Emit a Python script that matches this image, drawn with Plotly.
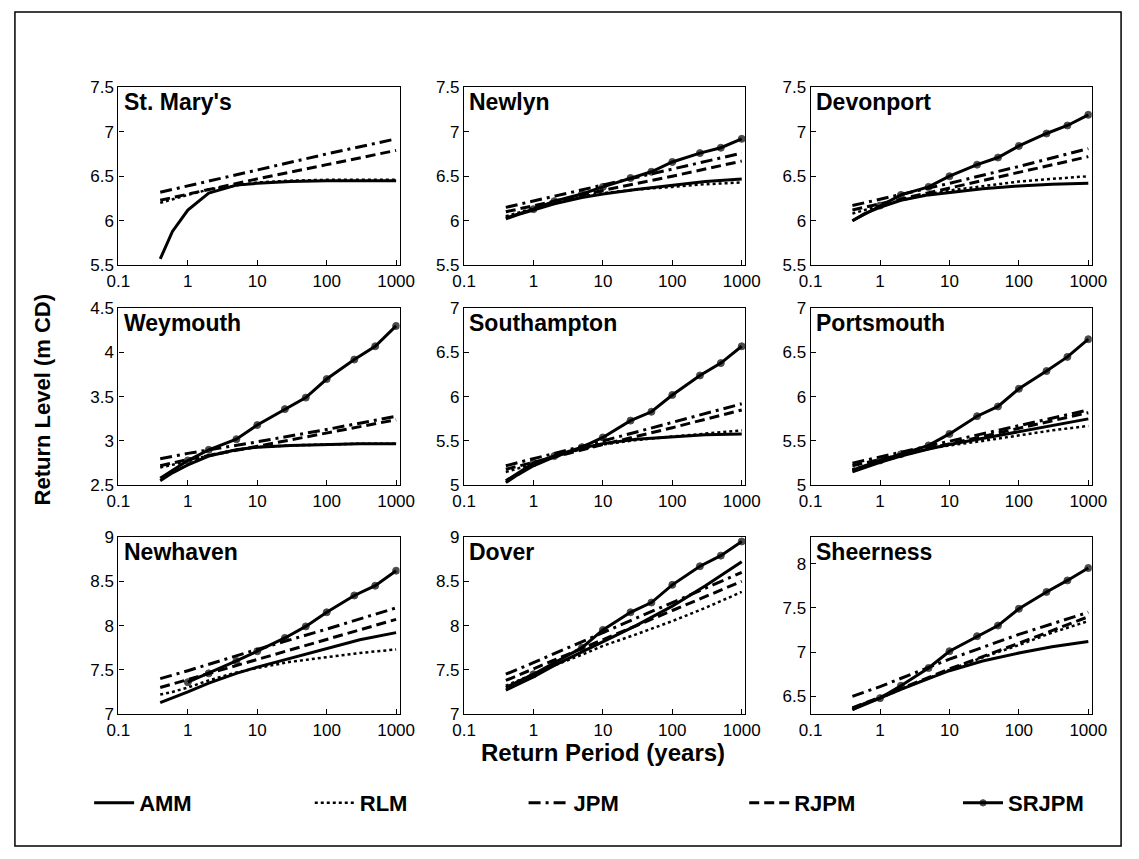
import plotly.graph_objects as go

# ---------------- data ----------------
STATIONS = ["St. Mary's", "Newlyn", "Devonport", "Weymouth", "Southampton",
            "Portsmouth", "Newhaven", "Dover", "Sheerness"]
METHODS = ["AMM", "RLM", "JPM", "RJPM", "SRJPM"]

X_CURVE = [0.4, 0.6, 1, 2, 5, 10, 30, 100, 300, 1000]      # AMM, RLM
X_LINE = [0.4, 1, 10, 100, 1000]                            # JPM, RJPM
X_SR = [0.4, 1, 2, 5, 10, 25, 50, 100, 250, 500, 1000]      # SRJPM

AMM = [
    [5.57, 5.88, 6.12, 6.31, 6.40, 6.42, 6.44, 6.45, 6.45, 6.45],
    [6.02, 6.07, 6.12, 6.19, 6.26, 6.30, 6.35, 6.40, 6.44, 6.47],
    [6.00, 6.08, 6.15, 6.23, 6.29, 6.32, 6.36, 6.39, 6.41, 6.42],
    [2.55, 2.64, 2.73, 2.83, 2.90, 2.93, 2.95, 2.96, 2.97, 2.97],
    [5.03, 5.12, 5.22, 5.32, 5.42, 5.47, 5.52, 5.55, 5.57, 5.58],
    [5.15, 5.20, 5.26, 5.33, 5.41, 5.46, 5.53, 5.61, 5.68, 5.75],
    [7.13, 7.18, 7.25, 7.35, 7.46, 7.53, 7.63, 7.74, 7.84, 7.92],
    [7.27, 7.34, 7.42, 7.55, 7.70, 7.82, 8.00, 8.22, 8.45, 8.72],
    [6.35, 6.42, 6.48, 6.58, 6.70, 6.79, 6.90, 6.99, 7.06, 7.12],
]
RLM = [
    [6.20, 6.24, 6.29, 6.35, 6.40, 6.43, 6.45, 6.46, 6.46, 6.46],
    [6.05, 6.09, 6.14, 6.20, 6.27, 6.31, 6.35, 6.38, 6.41, 6.43],
    [6.08, 6.12, 6.17, 6.23, 6.30, 6.34, 6.39, 6.44, 6.47, 6.50],
    [2.70, 2.73, 2.77, 2.84, 2.90, 2.93, 2.95, 2.96, 2.97, 2.97],
    [5.15, 5.19, 5.24, 5.32, 5.41, 5.46, 5.51, 5.55, 5.58, 5.62],
    [5.18, 5.22, 5.27, 5.33, 5.41, 5.45, 5.50, 5.56, 5.62, 5.67],
    [7.22, 7.25, 7.30, 7.38, 7.47, 7.52, 7.59, 7.64, 7.69, 7.73],
    [7.32, 7.38, 7.45, 7.55, 7.67, 7.77, 7.90, 8.05, 8.20, 8.38],
    [6.37, 6.42, 6.48, 6.58, 6.71, 6.80, 6.94, 7.08, 7.22, 7.35],
]
JPM = [
    [6.32, 6.39, 6.57, 6.75, 6.92],
    [6.15, 6.22, 6.40, 6.58, 6.76],
    [6.17, 6.24, 6.42, 6.61, 6.81],
    [2.80, 2.86, 2.99, 3.13, 3.28],
    [5.22, 5.30, 5.50, 5.71, 5.92],
    [5.25, 5.32, 5.50, 5.68, 5.85],
    [7.40, 7.49, 7.73, 7.96, 8.20],
    [7.45, 7.58, 7.92, 8.26, 8.60],
    [6.50, 6.61, 6.92, 7.20, 7.45],
]
RJPM = [
    [6.23, 6.30, 6.47, 6.63, 6.79],
    [6.10, 6.17, 6.34, 6.50, 6.67],
    [6.12, 6.19, 6.37, 6.54, 6.72],
    [2.72, 2.79, 2.94, 3.09, 3.24],
    [5.18, 5.26, 5.46, 5.65, 5.85],
    [5.22, 5.29, 5.47, 5.65, 5.82],
    [7.30, 7.39, 7.61, 7.84, 8.07],
    [7.38, 7.51, 7.84, 8.17, 8.50],
    [6.37, 6.49, 6.81, 7.10, 7.40],
]
SRJPM = [
    None,
    [6.03, 6.13, 6.22, 6.30, 6.38, 6.48, 6.55, 6.66, 6.76, 6.82, 6.92],
    [6.00, 6.17, 6.29, 6.38, 6.50, 6.63, 6.71, 6.84, 6.98, 7.07, 7.19],
    [2.58, 2.78, 2.90, 3.02, 3.18, 3.36, 3.49, 3.70, 3.92, 4.07, 4.30],
    [5.05, 5.25, 5.33, 5.43, 5.54, 5.73, 5.83, 6.02, 6.24, 6.38, 6.57],
    [5.17, 5.28, 5.35, 5.45, 5.58, 5.78, 5.89, 6.09, 6.29, 6.45, 6.65],
    [None, 7.36, 7.46, 7.60, 7.71, 7.86, 7.99, 8.15, 8.34, 8.45, 8.62],
    [7.30, 7.45, 7.58, 7.75, 7.95, 8.15, 8.26, 8.46, 8.67, 8.79, 8.95],
    [6.35, 6.48, 6.62, 6.82, 7.01, 7.18, 7.30, 7.49, 7.68, 7.81, 7.95],
]
Y_RANGES = [[5.5, 7.5], [5.5, 7.5], [5.5, 7.5], [2.5, 4.5], [5, 7], [5, 7],
            [7, 9], [7, 9], [6.3, 8.3]]
Y_TICKS = [[5.5, 6, 6.5, 7, 7.5], [5.5, 6, 6.5, 7, 7.5], [5.5, 6, 6.5, 7, 7.5],
           [2.5, 3, 3.5, 4, 4.5], [5, 5.5, 6, 6.5, 7], [5, 5.5, 6, 6.5, 7],
           [7, 7.5, 8, 8.5, 9], [7, 7.5, 8, 8.5, 9], [6.5, 7, 7.5, 8]]
X_TICKS = [0.1, 1, 10, 100, 1000]
X_TICK_TEXT = ["0.1", "1", "10", "100", "1000"]

# ---------------- layout / style ----------------
W, H = 1139, 859
COLS_PX = [(109, 397), (463, 751), (818, 1106)]
ROWS_PX = [(80, 262), (306, 487), (540, 721)]
LEGEND_TEXT_X = [129, 355, 574, 800, 1019]
FONT = "Liberation Sans, Arial, sans-serif"

STYLE = {
    "AMM": dict(mode="lines", line=dict(color="black", width=3, dash="solid")),
    "RLM": dict(mode="lines", line=dict(color="black", width=2.5, dash="dot")),
    "JPM": dict(mode="lines", line=dict(color="black", width=3, dash="12px,5px,3px,5px")),
    "RJPM": dict(mode="lines", line=dict(color="black", width=3, dash="10px,5px")),
    "SRJPM": dict(mode="lines+markers", line=dict(color="black", width=3)),
}
SERIES = {"AMM": (X_CURVE, AMM), "RLM": (X_CURVE, RLM), "JPM": (X_LINE, JPM),
          "RJPM": (X_LINE, RJPM), "SRJPM": (X_SR, SRJPM)}

fig = go.Figure()
legend_layout = {}
for j, m in enumerate(METHODS):
    lk = "legend" if j == 0 else "legend%d" % (j + 1)
    legend_layout[lk] = dict(orientation="h", x=(LEGEND_TEXT_X[j] - 50) / W, y=1 - 812 / H,
                             xanchor="left", yanchor="middle", itemwidth=40,
                             bgcolor="rgba(0,0,0,0)", borderwidth=0,
                             font=dict(family=FONT, size=22, color="black", weight="bold"))

for i, name in enumerate(STATIONS):
    r, c = divmod(i, 3)
    k = "" if i == 0 else str(i + 1)
    for j, m in enumerate(METHODS):
        xs, ys = SERIES[m]
        yv = ys[i]
        if yv is None:
            continue
        tr = dict(STYLE[m])
        if m == "SRJPM":
            tr["marker"] = dict(symbol="circle", color="black",
                                line=dict(width=1, color="black"),
                                size=[0 if q == 0 else 7 for q in range(len(xs))])
        fig.add_trace(go.Scatter(x=xs, y=yv, name=m, xaxis="x" + k, yaxis="y" + k,
                                 showlegend=(i == 1),
                                 legend=("legend" if j == 0 else "legend%d" % (j + 1)),
                                 **tr))
    x0, x1 = COLS_PX[c]
    y0, y1 = ROWS_PX[r]
    ticks = Y_TICKS[i]
    axis_common = dict(showline=True, mirror=True, linecolor="black", linewidth=1.2,
                       ticks="inside", ticklen=5, tickcolor="black", showgrid=False,
                       zeroline=False, tickfont=dict(family=FONT, size=17, color="black"))
    fig.update_layout(**{
        "xaxis" + k: dict(type="log", range=[-1, 3.05], domain=[x0 / W, x1 / W],
                          anchor="y" + k, tickvals=X_TICKS, ticktext=X_TICK_TEXT,
                          **axis_common),
        "yaxis" + k: dict(range=Y_RANGES[i], domain=[1 - y1 / H, 1 - y0 / H], anchor="x" + k,
                          tickvals=ticks, ticktext=[("%g" % v) for v in ticks],
                          **axis_common),
    })
    fig.add_annotation(text="<b>%s</b>" % name, xref="x%s domain" % k, yref="y%s domain" % k,
                       x=0.012, y=1.0, xanchor="left", yanchor="top", showarrow=False,
                       font=dict(family=FONT, size=23, color="black"))

fig.add_annotation(text="<b>Return Period (years)</b>", xref="paper", yref="paper",
                   x=605 / W, y=1 - 760 / H, xanchor="center", yanchor="middle",
                   showarrow=False, font=dict(family=FONT, size=24, color="black"))
fig.add_annotation(text="<b>Return Level (m CD)</b>", xref="paper", yref="paper",
                   x=31 / W, y=1 - 400 / H, xanchor="center", yanchor="middle",
                   textangle=-90, showarrow=False,
                   font=dict(family=FONT, size=22, color="black"))
fig.add_shape(type="rect", xref="paper", yref="paper", x0=3 / W, x1=1 - 3 / W,
              y0=3 / H, y1=1 - 3 / H, line=dict(color="black", width=1.5))

fig.update_layout(
    width=W, height=H, margin=dict(l=0, r=0, t=0, b=0),
    paper_bgcolor="white", plot_bgcolor="white",
    **legend_layout,
)
fig.write_html("out.html", config={"displayModeBar": False},
               post_script="document.body.style.margin='0';document.body.style.overflow='hidden';")
